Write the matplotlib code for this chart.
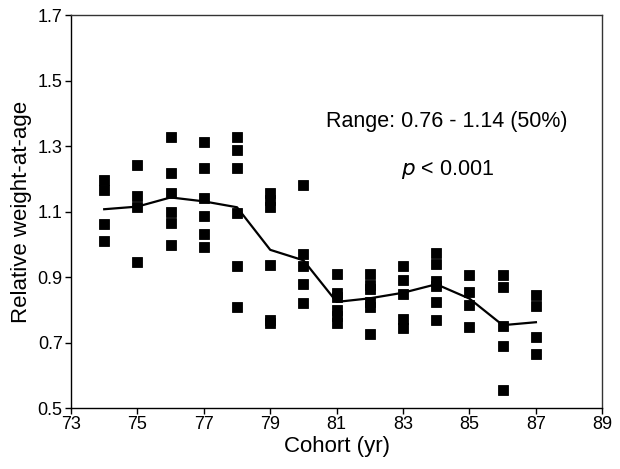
import matplotlib
matplotlib.use("Agg")
import matplotlib.pyplot as plt
import numpy as np

plt.rcParams['font.family'] = ['Liberation Sans', 'DejaVu Sans']

# Individual relative weight-at-age values per cohort
cohorts = [74, 75, 76, 77, 78, 79, 80, 81, 82, 83, 84, 85, 86, 87]
values = {
    74: [1.196, 1.166, 1.061, 1.011],
    75: [1.243, 1.148, 1.115, 0.945],
    76: [1.328, 1.218, 1.156, 1.098, 1.066, 0.999],
    77: [1.312, 1.233, 1.142, 1.086, 1.031, 0.992],
    78: [1.326, 1.289, 1.232, 1.097, 0.935, 0.808],
    79: [1.158, 1.136, 1.115, 0.937, 0.768, 0.760],
    80: [1.180, 0.970, 0.935, 0.880, 0.820],
    81: [0.910, 0.852, 0.838, 0.799, 0.780, 0.760],
    82: [0.910, 0.875, 0.862, 0.824, 0.808, 0.725],
    83: [0.933, 0.890, 0.847, 0.773, 0.743],
    84: [0.973, 0.940, 0.888, 0.872, 0.824, 0.768],
    85: [0.907, 0.854, 0.814, 0.748],
    86: [0.907, 0.869, 0.750, 0.690, 0.555],
    87: [0.846, 0.811, 0.717, 0.666],
}
# Mean trend per cohort
trend = [1.107, 1.115, 1.143, 1.131, 1.113, 0.983, 0.951, 0.824,
         0.835, 0.852, 0.878, 0.834, 0.753, 0.762]

x_ticks = [73, 75, 77, 79, 81, 83, 85, 87, 89]
y_ticks = [0.5, 0.7, 0.9, 1.1, 1.3, 1.5, 1.7]
y_tick_labels = ["0.5", "0.7", "0.9", "1.1", "1.3", "1.5", "1.7"]

fig = plt.figure(figsize=(6.2, 4.69), dpi=100)
ax = fig.add_axes([0.1145, 0.130, 0.857, 0.838])

xs = np.concatenate([[c] * len(values[c]) for c in cohorts])
ys = np.concatenate([values[c] for c in cohorts])
ax.plot(xs, ys, linestyle='none', marker='s', ms=6.6, mew=0.6,
        mfc='black', mec='black')
ax.plot(cohorts, trend, color='black', lw=1.6)

ax.set_xlim(73, 89)
ax.set_ylim(0.5, 1.7)
ax.set_xticks(x_ticks)
ax.set_yticks(y_ticks)
ax.set_yticklabels(y_tick_labels)
ax.tick_params(axis='both', direction='out', length=4, width=1,
               labelsize=13, pad=2, colors='black')
for side in ['left', 'bottom']:
    ax.spines[side].set_color('black')
    ax.spines[side].set_linewidth(1.0)
for side in ['top', 'right']:
    ax.spines[side].set_color('#333333')
    ax.spines[side].set_linewidth(1.0)

ax.set_xlabel("Cohort (yr)", fontsize=16, labelpad=2)
ax.set_ylabel("Relative weight-at-age", fontsize=16, labelpad=4)

ax.text(0.708, 0.728, "Range: 0.76 - 1.14 (50%)", transform=ax.transAxes,
        ha='center', va='center', fontsize=15.5)
ax.text(0.708, 0.606, r"$p$ < 0.001", transform=ax.transAxes,
        ha='center', va='center', fontsize=15.5)

fig.savefig("out.png", dpi=100)
